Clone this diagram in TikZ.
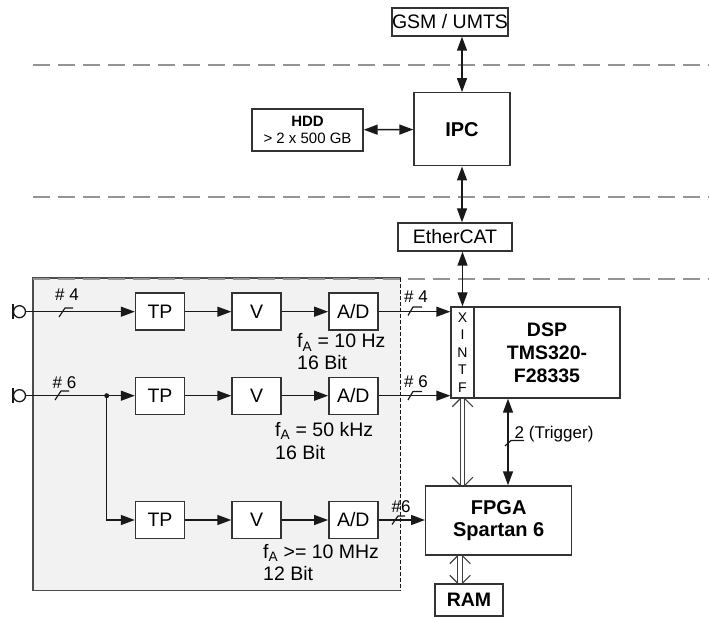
\documentclass[tikz,border=0pt]{standalone}
\usepackage{fontspec}
\setmainfont{Liberation Sans}
\usetikzlibrary{arrows.meta,calc}

% two barbs at the end of a double bus line
\newcommand{\busend}[2]{%
  \draw[busline] ($(#1)+(-2.3,0)$) -- ++(-8,#2*8);
  \draw[busline] ($(#1)+(2.3,0)$) -- ++(8,#2*8);}

\begin{document}
\begin{tikzpicture}[x=1pt, y=-1pt,
  every node/.style={font=\fontsize{19.5}{23}\selectfont},
  box/.style={draw=black!80, line width=1.4pt, fill=white, inner sep=0pt, align=center},
  blk/.style={box, minimum width=49pt, minimum height=37pt},
  arr/.style={draw=black!90, line width=1.4pt, -{Triangle[length=14pt,width=10pt]}},
  biarr/.style={draw=black!90, line width=1.4pt, {Triangle[length=14pt,width=10pt]}-{Triangle[length=14pt,width=10pt]}},
  busline/.style={draw=black!75, line width=1.2pt},
  bus/.style={busline, double, double distance=3.4pt},
  sep/.style={draw=black!42, line width=2.6pt, dash pattern=on 17pt off 8pt},
  tick/.style={draw=black!90, line width=1.2pt},
  hash/.style={font=\fontsize{17}{20}\selectfont, inner sep=0pt},
  lbl/.style={inner sep=0pt, anchor=base west},
  inport/.style={circle, draw=black!90, line width=1.3pt, minimum size=12pt, inner sep=0pt, fill=white}]
\useasboundingbox (0,0) rectangle (709,617);

% analog front end area
\fill[black!5] (33,278) rectangle (400.5,590.5);
\draw[black!70, line width=1.4pt] (400.5,278) -- (33,278) -- (33,590.5) -- (400.5,590.5);
\draw[black!90, line width=0.8pt, dash pattern=on 4pt off 2pt] (400.5,278) -- (400.5,590.5);
\foreach \y in {65,197,279}
  \draw[sep] (33,\y) -- (709,\y);

% upper level
\node[box, minimum width=116pt, minimum height=28pt] (gsm) at (450,22) {GSM / UMTS};
\node[box, minimum width=96pt, minimum height=73pt, font=\fontsize{20}{24}\selectfont\bfseries] (ipc) at (462,129.3) {IPC};
\node[box, minimum width=111pt, minimum height=42pt, font=\fontsize{15}{16.7}\selectfont] (hdd) at (307.5,130) {\textbf{HDD}\\> 2 x 500 GB};
\node[box, minimum width=114pt, minimum height=28pt] (ether) at (455,237) {EtherCAT};

% DSP, FPGA, RAM
\node[box, minimum width=23pt, minimum height=91pt, font=\fontsize{14}{17.5}\selectfont] (xintf) at (462.5,352.5) {X\\I\\N\\T\\F};
\node[box, minimum width=146pt, minimum height=91pt, font=\fontsize{19.5}{23}\selectfont\bfseries] (dsp) at (547,352.5) {DSP\\TMS320-\\F28335};
\node[box, minimum width=146pt, minimum height=69pt, font=\fontsize{20}{22}\selectfont\bfseries] (fpga) at (498.7,520.5) {FPGA\\Spartan 6};
\node[box, minimum width=68pt, minimum height=32pt, font=\fontsize{19.5}{23}\selectfont\bfseries] (ram) at (469,600) {RAM};

% signal chains
\node[blk] (tp1) at (160,311.7) {TP};
\node[blk] (v1) at (256.5,311.7) {V};
\node[blk] (ad1) at (353.3,311.7) {A/D};
\node[blk] (tp2) at (160,395.7) {TP};
\node[blk] (v2) at (256.5,395.7) {V};
\node[blk] (ad2) at (353.3,395.7) {A/D};
\node[blk] (tp3) at (160,520) {TP};
\node[blk] (v3) at (256.5,520) {V};
\node[blk] (ad3) at (353.3,520) {A/D};

\node[inport] (in1) at (19.5,311.7) {};
\node[inport] (in2) at (19.5,395.7) {};
\draw[black!90, line width=1.3pt] ($(in1.west)+(0,-7.5)$) -- ($(in1.west)+(0,7.5)$);
\draw[black!90, line width=1.3pt] ($(in2.west)+(0,-7.5)$) -- ($(in2.west)+(0,7.5)$);
\coordinate (j2) at (106.7,395.7);
\fill[black!90] (j2) circle (2.5);

\draw[arr] (in1) -- (tp1);
\draw[arr] (tp1) -- (v1);
\draw[arr] (v1) -- (ad1);
\draw[arr] (ad1) -- (ad1 -| xintf.west);
\draw[arr] (in2) -- (tp2);
\draw[arr] (tp2) -- (v2);
\draw[arr] (v2) -- (ad2);
\draw[arr] (ad2) -- (ad2 -| xintf.west);
\draw[arr] (j2) |- (tp3);
\draw[arr] (tp3) -- (v3);
\draw[arr] (v3) -- (ad3);
\draw[arr] (ad3) -- (ad3 -| fpga.west);

% bus widths
\draw[tick] (59,317) -- ++(6,-9) -- ++(8,0);
\node[hash] (h1a) at (67,295) {\# 4};
\draw[tick] (55,400) -- ++(6,-9) -- ++(8,0);
\node[hash] (h2a) at (64.5,382.5) {\# 6};
\draw[tick] (408,315.5) -- ++(5,-8.5) -- ++(9,0);
\node[hash] (h1b) at (416,297) {\# 4};
\draw[tick] (408,400) -- ++(5,-8.5) -- ++(9,0);
\node[hash] (h2b) at (416,382) {\# 6};
\draw[tick] (392,524.5) -- ++(6,-8.5) -- ++(7,0);
\node[hash] (h3b) at (401,507) {\#6};

% sampling data
\node[lbl] (fa1) at (297,348) {f\textsubscript{A} = 10 Hz};
\node[lbl] (res1) at (297,369) {16 Bit};
\node[lbl] (fa2) at (275,436) {f\textsubscript{A} = 50 kHz};
\node[lbl] (res2) at (275,459) {16 Bit};
\node[lbl] (fa3) at (263,558) {f\textsubscript{A} >= 10 MHz};
\node[lbl] (res3) at (263,580) {12 Bit};

% upper connections
\draw[biarr] (ipc.north |- gsm.south) -- (ipc.north);
\draw[biarr] (hdd) -- (ipc);
\draw[biarr] (ipc.south) -- (ipc.south |- ether.north);
\draw[biarr] (ether.south -| xintf.north) -- (xintf.north);

% trigger line
\coordinate (trig) at (508,0);
\draw[biarr] (trig |- dsp.south) -- (trig |- fpga.north);
\draw[tick] (505,446) -- ++(6,-5.5) -- ++(13,0);
\node[hash, anchor=base west] (trg) at (514.5,438.5) {2 (Trigger)};

% parallel buses
\draw[bus] (xintf.south) -- (xintf.south |- fpga.north);
\busend{xintf.south}{1}
\busend{xintf.south |- fpga.north}{-1}
\coordinate (rbus) at (460,0);
\draw[bus] (rbus |- fpga.south) -- (rbus |- ram.north);
\busend{rbus |- fpga.south}{1}
\busend{rbus |- ram.north}{-1}
\end{tikzpicture}
\end{document}
